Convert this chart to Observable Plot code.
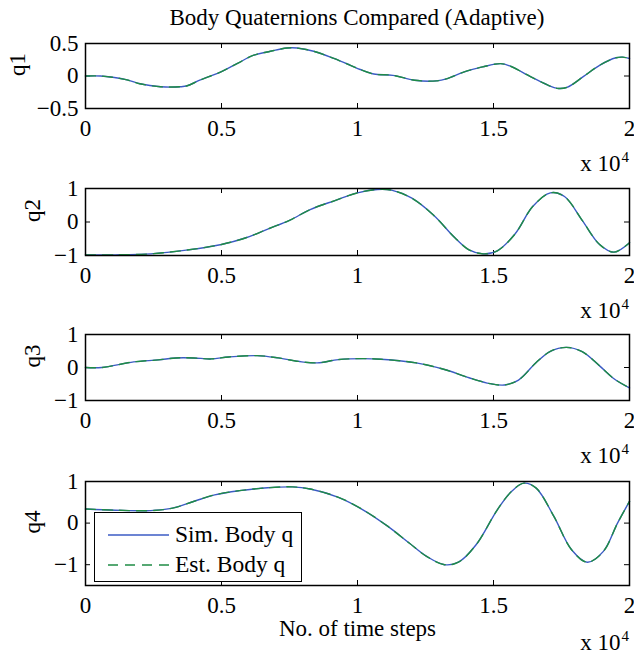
<!DOCTYPE html>
<html><head><meta charset="utf-8">
<script src="https://cdn.jsdelivr.net/npm/d3@7"></script>
<script src="https://cdn.jsdelivr.net/npm/@observablehq/plot@0.6"></script>
<style>
body{margin:0;background:#fff;}
#chart{position:relative;width:634px;height:653px;font-family:"Liberation Serif","Times New Roman",serif;overflow:hidden;background:#fff}
#chart svg.panel{position:absolute;left:0;}
#title{position:absolute;left:85px;width:544px;top:4px;text-align:center;font-size:23px;line-height:28px;color:#000}
#legend{position:absolute;left:94px;top:512px;width:208px;height:70px;border:1.5px solid #000;background:#fff;box-sizing:border-box}
#legend svg{position:absolute;left:0;top:0}
#legend .lt{position:absolute;left:80px;font-size:23.5px;line-height:26px;white-space:nowrap;color:#000}
</style></head><body><div id="chart"><div id="title">Body Quaternions Compared (Adaptive)</div></div>
<script>
// ---- data (time steps, quaternion components) ----
const q1Steps = [0, 550, 1000, 1530, 2000, 2760, 3500, 3740, 4200, 4960, 5570, 6190, 6800, 7410, 7780, 8390, 9130, 9740, 10100, 10600, 11300, 12100, 12900, 13300, 13900, 14600, 15260, 15600, 16360, 17000, 17340, 17700, 18300, 18900, 19500, 19750, 20000];
const q1Values = [0.0, 0.0, -0.02, -0.06, -0.12, -0.165, -0.165, -0.15, -0.065, 0.06, 0.19, 0.32, 0.38, 0.43, 0.43, 0.38, 0.27, 0.165, 0.10, 0.03, 0.01, -0.065, -0.075, -0.04, 0.06, 0.14, 0.19, 0.155, -0.01, -0.14, -0.19, -0.175, -0.01, 0.165, 0.28, 0.29, 0.27];

const q2Steps = [0, 1100, 2400, 3700, 5000, 5900, 6700, 7500, 8260, 9170, 10000, 10730, 11250, 12000, 12800, 13580, 14100, 14620, 15140, 15790, 16440, 17090, 17610, 18260, 18900, 19430, 20000];
const q2Values = [-0.98, -0.98, -0.95, -0.84, -0.67, -0.47, -0.21, 0.05, 0.37, 0.64, 0.87, 0.97, 0.95, 0.71, 0.20, -0.47, -0.83, -0.95, -0.86, -0.36, 0.46, 0.87, 0.76, 0.05, -0.67, -0.90, -0.62];

const q3Steps = [0, 600, 1770, 2680, 3330, 3970, 4620, 5270, 6310, 7090, 7870, 8520, 9300, 10200, 10860, 12160, 13200, 14100, 14880, 15400, 15920, 16570, 17090, 17680, 18260, 18900, 19430, 20000];
const q3Values = [0.0, 0.0, 0.17, 0.23, 0.29, 0.29, 0.26, 0.32, 0.36, 0.29, 0.18, 0.14, 0.24, 0.27, 0.25, 0.14, -0.06, -0.31, -0.49, -0.53, -0.38, 0.15, 0.49, 0.61, 0.48, 0.05, -0.34, -0.62];

const q4Steps = [0, 1100, 2400, 3200, 3970, 4750, 5660, 6700, 7610, 8260, 9300, 10200, 11120, 11900, 12540, 13200, 13710, 14360, 15140, 15660, 16120, 16570, 17220, 17870, 18450, 19040, 19560, 20000];
const q4Values = [0.34, 0.31, 0.30, 0.36, 0.52, 0.68, 0.78, 0.85, 0.87, 0.82, 0.62, 0.32, -0.08, -0.48, -0.80, -1.0, -0.94, -0.52, 0.32, 0.76, 0.96, 0.84, 0.16, -0.64, -0.94, -0.68, 0.0, 0.52];

const xTicks = [0, 5000, 10000, 15000, 20000];
const xTickLabels = ["0", "0.5", "1", "1.5", "2"];
const q1Ticks = [-0.5, 0, 0.5];
const qTicks = [-1, 0, 1];
const panelLabels = ["q1", "q2", "q3", "q4"];
const seriesNames = ["Sim. Body q", "Est. Body q"];
const xAxisTitle = "No. of time steps";
const exponentBase = "x 10";
const exponent = "4";

const BLUE = "#3b5bc4";
const GREEN = "#1f8c45";
const FONT = "Liberation Serif, Times New Roman, serif";
const W = 634, ML = 85, MR = 5;
const yFmt = d3.format("");

function panel({steps, values, yDomain, yTicks, label, top, marginTop, frameH, marginBottom, labelOffset, xTitle}) {
  const height = marginTop + frameH + marginBottom;
  const frameW = W - ML - MR;
  const data = steps.map((s, i) => ({step: s, value: values[i]}));
  const marks = [
    Plot.tickX(xTicks, {x: d => d, stroke: "#000", strokeWidth: 1, insetTop: frameH - 5}),
    Plot.tickX(xTicks, {x: d => d, stroke: "#000", strokeWidth: 1, insetBottom: frameH - 5}),
    Plot.tickY(yTicks, {y: d => d, stroke: "#000", strokeWidth: 1, insetRight: frameW - 5}),
    Plot.tickY(yTicks, {y: d => d, stroke: "#000", strokeWidth: 1, insetLeft: frameW - 5}),
    Plot.line(data, {x: "step", y: "value", stroke: BLUE, strokeWidth: 1.4, curve: "catmull-rom"}),
    Plot.line(data, {x: "step", y: "value", stroke: GREEN, strokeWidth: 1.4, strokeDasharray: "10,7", curve: "catmull-rom"}),
    Plot.frame({stroke: "#000", strokeWidth: 1.5}),
    Plot.axisX({ticks: xTicks, tickFormat: d => xTickLabels[xTicks.indexOf(d)], tickSize: 0, tickPadding: 11, label: null, fontSize: 23}),
    Plot.axisY({ticks: yTicks, tickFormat: yFmt, tickSize: 0, tickPadding: 7, label: null, fontSize: 23}),
    Plot.text([label], {text: d => d, frameAnchor: "left", rotate: -90, dx: -labelOffset, fontSize: 23}),
    Plot.text([exponentBase], {text: d => d, frameAnchor: "bottom-right", textAnchor: "end", dx: -9, dy: xTitle ? 64 : 62, fontSize: 23}),
    Plot.text([exponent], {text: d => d, frameAnchor: "bottom-right", textAnchor: "start", dx: -8, dy: xTitle ? 55 : 53, fontSize: 15})
  ];
  if (xTitle) marks.push(Plot.text([xTitle], {text: d => d, frameAnchor: "bottom", dy: 50, fontSize: 23}));
  const svg = Plot.plot({
    width: W, height,
    marginLeft: ML, marginRight: MR, marginTop, marginBottom,
    x: {domain: [0, 20000]},
    y: {domain: yDomain},
    style: {fontFamily: FONT, fontSize: "23px", background: "transparent", color: "#000", overflow: "visible"},
    marks
  });
  svg.classList.add("panel");
  svg.style.top = top + "px";
  return svg;
}

const chart = document.getElementById("chart");
chart.appendChild(panel({steps: q1Steps, values: q1Values, yDomain: [-0.5, 0.5], yTicks: q1Ticks, label: panelLabels[0], top: 0, marginTop: 43, frameH: 65, marginBottom: 65, labelOffset: 68}));
chart.appendChild(panel({steps: q2Steps, values: q2Values, yDomain: [-1, 1], yTicks: qTicks, label: panelLabels[1], top: 173, marginTop: 15, frameH: 67, marginBottom: 63, labelOffset: 53}));
chart.appendChild(panel({steps: q3Steps, values: q3Values, yDomain: [-1, 1], yTicks: qTicks, label: panelLabels[2], top: 318, marginTop: 16, frameH: 66, marginBottom: 65, labelOffset: 53}));
chart.appendChild(panel({steps: q4Steps, values: q4Values, yDomain: [-1.5, 1], yTicks: qTicks, label: panelLabels[3], top: 465, marginTop: 16, frameH: 104, marginBottom: 68, labelOffset: 53, xTitle: xAxisTitle}));

// legend
const legend = document.createElement("div");
legend.id = "legend";
legend.innerHTML = `<svg width="208" height="70">
  <line x1="13" x2="74" y1="22" y2="22" stroke="${BLUE}" stroke-width="1.3"/>
  <line x1="13" x2="74" y1="52" y2="52" stroke="${GREEN}" stroke-width="1.3" stroke-dasharray="10,7"/>
</svg>
<div class="lt" style="top:8px">${seriesNames[0]}</div>
<div class="lt" style="top:38px">${seriesNames[1]}</div>`;
chart.appendChild(legend);
</script></body></html>
